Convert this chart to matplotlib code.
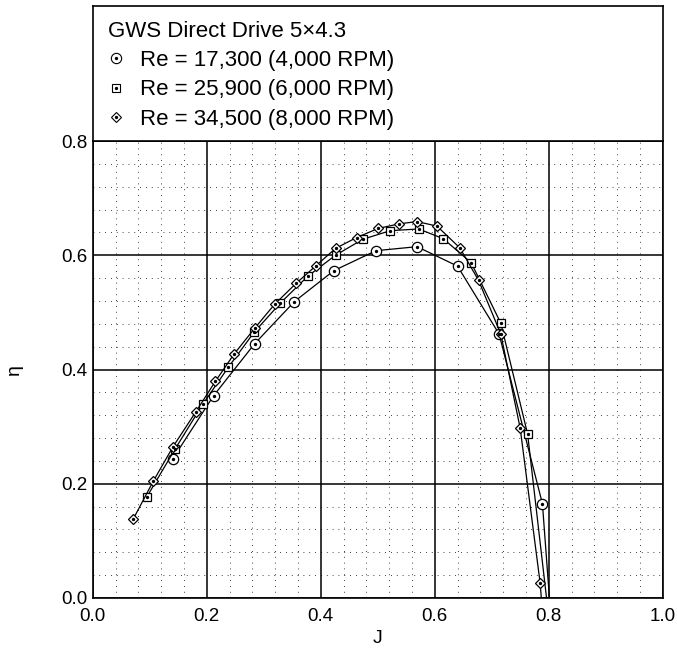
import numpy as np
import matplotlib
matplotlib.use("Agg")
import matplotlib.pyplot as plt
from matplotlib.lines import Line2D
from matplotlib.legend_handler import HandlerTuple

plt.rcParams['font.family'] = ['Liberation Sans', 'DejaVu Sans']

# ---- data ----
title = "GWS Direct Drive 5\u00d74.3"
labels = ["Re = 17,300 (4,000 RPM)", "Re = 25,900 (6,000 RPM)", "Re = 34,500 (8,000 RPM)"]

J_4000 = [0.140, 0.212, 0.284, 0.354, 0.423, 0.497, 0.569, 0.640, 0.713, 0.789, 0.805]
eta_4000 = [0.243, 0.354, 0.445, 0.519, 0.573, 0.608, 0.615, 0.581, 0.462, 0.165, -0.05]

J_6000 = [0.095, 0.144, 0.193, 0.238, 0.283, 0.329, 0.377, 0.426, 0.474, 0.522, 0.572,
          0.615, 0.664, 0.716, 0.763, 0.802]
eta_6000 = [0.177, 0.260, 0.339, 0.404, 0.465, 0.516, 0.563, 0.600, 0.628, 0.643, 0.646,
            0.629, 0.587, 0.481, 0.287, -0.05]

J_8000 = [0.071, 0.106, 0.141, 0.181, 0.215, 0.248, 0.284, 0.319, 0.357, 0.391, 0.426,
          0.463, 0.501, 0.538, 0.569, 0.604, 0.644, 0.677, 0.716, 0.750, 0.785, 0.791]
eta_8000 = [0.138, 0.204, 0.265, 0.326, 0.379, 0.427, 0.472, 0.514, 0.551, 0.581, 0.612,
            0.631, 0.647, 0.655, 0.659, 0.651, 0.613, 0.556, 0.462, 0.297, 0.026, -0.05]

xticks = [0.0, 0.2, 0.4, 0.6, 0.8, 1.0]
yticks = [0.0, 0.2, 0.4, 0.6, 0.8]

series = [(J_4000, eta_4000, 'o', 7.4),
          (J_6000, eta_6000, 's', 6.4),
          (J_8000, eta_8000, 'D', 5.5)]

W, H = 677, 651
fig = plt.figure(figsize=(W / 100, H / 100), dpi=100)
ax = fig.add_axes([92.7 / W, (H - 598) / H, 570 / W, 457 / H])
ax_leg = fig.add_axes([92.7 / W, (H - 141) / H, 570 / W, 135 / H])

handles = []
for (x, y, m, ms) in series:
    ax.plot(x, y, color='k', lw=0.9, marker=m, ms=ms, mfc='white', mec='k', mew=0.9, zorder=3)
    ax.plot(x, y, ls='none', marker='o', ms=1.4, color='k', zorder=4)
    h1 = Line2D([], [], ls='none', marker=m, ms=ms, mfc='white', mec='k', mew=0.8)
    h2 = Line2D([], [], ls='none', marker='o', ms=1.4, color='k')
    handles.append((h1, h2))

ax.set_xlim(0, 1.0)
ax.set_ylim(0, 0.8)
ax.set_xticks(xticks)
ax.set_yticks(yticks)
ax.set_xticklabels([f"{v:.1f}" for v in xticks])
ax.set_yticklabels([f"{v:.1f}" for v in yticks])
ax.set_xticks(np.arange(0, 1.0001, 0.04), minor=True)
ax.set_yticks(np.arange(0, 0.8001, 0.04), minor=True)
ax.set_axisbelow(True)
ax.grid(which='major', color='k', lw=1.1)
ax.grid(which='minor', color='k', lw=0.6, ls=(0, (1, 6)))
ax.tick_params(which='both', length=0, labelsize=13.5)
ax.tick_params(axis='x', pad=7)
ax.tick_params(axis='y', pad=4)
for s in ax.spines.values():
    s.set_linewidth(1.2)
ax.set_xlabel("J", fontsize=14, labelpad=4)
ax.set_ylabel("\u03b7", fontsize=14, labelpad=27)

ax_leg.set_xticks([])
ax_leg.set_yticks([])
for s in ax_leg.spines.values():
    s.set_linewidth(1.2)
leg = ax_leg.legend(handles, labels, handler_map={tuple: HandlerTuple(ndivide=1)},
                    title=title, title_fontsize=16, fontsize=16, loc='upper left',
                    bbox_to_anchor=(0.027, 0.89), frameon=False, borderpad=0,
                    borderaxespad=0, handlelength=0.7, handletextpad=0.75,
                    labelspacing=0.37, alignment='left')

fig.savefig("out.png", dpi=100)
